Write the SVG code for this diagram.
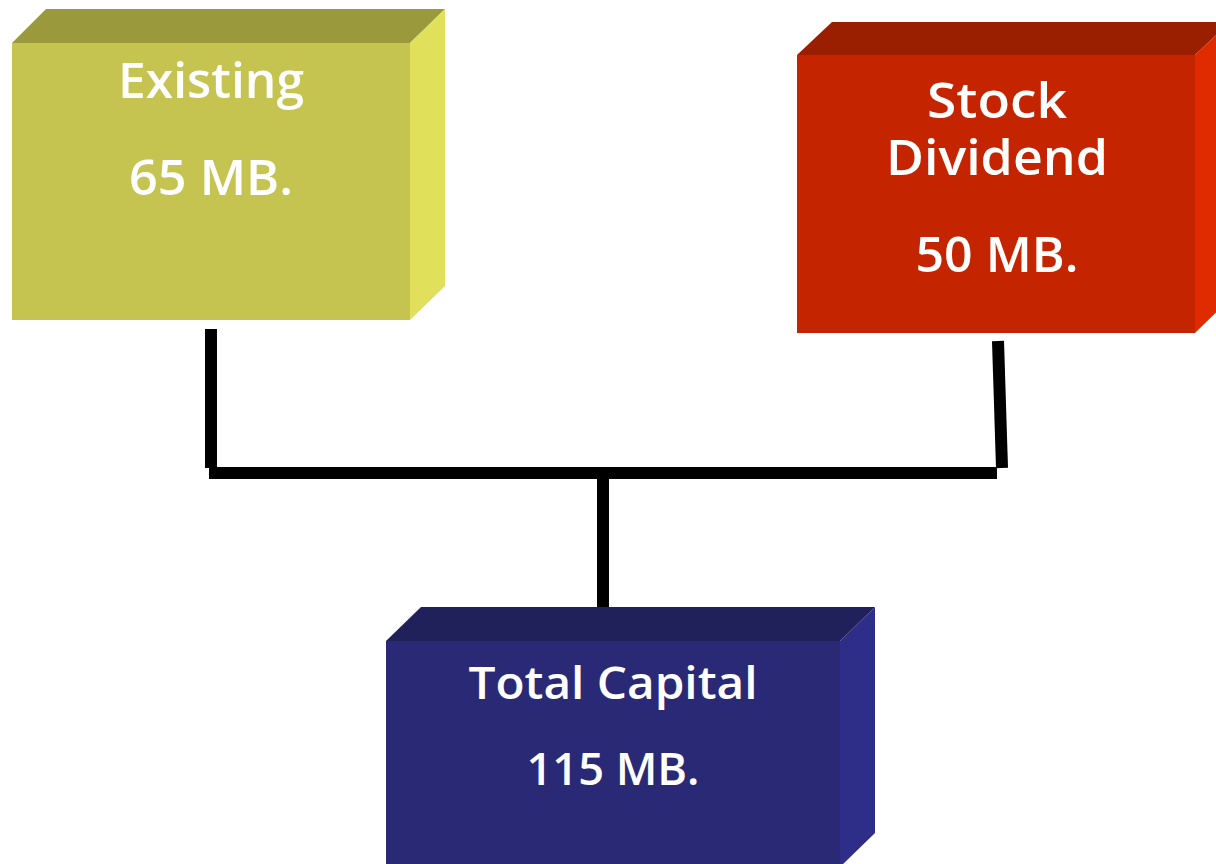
<svg xmlns="http://www.w3.org/2000/svg" width="1216" height="864" viewBox="0 0 1216 864">
<style>
.lbl{font-family:"Open Sans","DejaVu Sans","Liberation Sans",sans-serif;font-weight:600;fill:#ffffff;text-anchor:middle;}
.con{stroke:#000000;stroke-width:12;fill:none;stroke-linecap:butt;}
</style>
<rect width="1216" height="864" fill="#ffffff"/>
<g id="connectors">
<line class="con" x1="211" y1="329" x2="211" y2="468"/>
<line class="con" x1="209" y1="473" x2="997" y2="473"/>
<line class="con" x1="998" y1="341" x2="1002" y2="468"/>
<line class="con" x1="603" y1="479" x2="603" y2="610"/>
</g>
<g id="node-existing">
<polygon points="12,43 46,9 445,9 410,43" fill="#9A9A3C"/>
<polygon points="410,43 445,9 445,286 410,320" fill="#E0E05A"/>
<rect x="12" y="43" width="398" height="277" fill="#C5C450"/>
<text class="lbl" x="211" y="98" font-size="48" textLength="186" lengthAdjust="spacingAndGlyphs">Existing</text>
<text class="lbl" x="211" y="195" font-size="48" textLength="164" lengthAdjust="spacingAndGlyphs">65 MB.</text>
</g>
<g id="node-stock-dividend">
<polygon points="797,55 832,22 1230,22 1195,55" fill="#9A1E00"/>
<polygon points="1195,55 1230,22 1230,299 1195,333" fill="#E02A00"/>
<rect x="797" y="55" width="398" height="278" fill="#C42500"/>
<text class="lbl" x="997" y="118" font-size="48" textLength="140" lengthAdjust="spacingAndGlyphs">Stock</text>
<text class="lbl" x="997" y="175" font-size="48" textLength="222" lengthAdjust="spacingAndGlyphs">Dividend</text>
<text class="lbl" x="997" y="272" font-size="48" textLength="163" lengthAdjust="spacingAndGlyphs">50 MB.</text>
</g>
<g id="node-total-capital">
<polygon points="386,641 421,607 875,607 840,641" fill="#20205A"/>
<polygon points="840,641 875,607 875,833 840,867" fill="#2E2D88"/>
<rect x="386" y="641" width="454" height="230" fill="#2A2975"/>
<text class="lbl" x="613" y="699" font-size="46" textLength="289" lengthAdjust="spacingAndGlyphs">Total Capital</text>
<text class="lbl" x="613" y="785" font-size="46" textLength="173" lengthAdjust="spacingAndGlyphs">115 MB.</text>
</g>
</svg>
